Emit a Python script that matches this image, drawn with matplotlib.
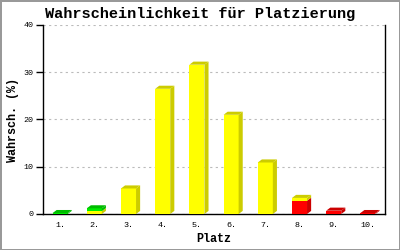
import numpy as np
import matplotlib
matplotlib.use('Agg')
import matplotlib.pyplot as plt
from matplotlib.patches import Polygon, Rectangle

# data: Wahrscheinlichkeit je Platz, gestapelt (rot, gelb, gruen)
places = ['1.', '2.', '3.', '4.', '5.', '6.', '7.', '8.', '9.', '10.']
red = [0, 0, 0, 0, 0, 0, 0, 2.8, 0.7, 0.2]
yellow = [0, 0.6, 5.4, 26.5, 31.6, 21.0, 10.9, 0.6, 0, 0]
green = [0.2, 0.6, 0, 0, 0, 0, 0, 0, 0, 0]

series = [(red, '#ff0000', '#cc0000'),
          (yellow, '#ffff00', '#cccc00'),
          (green, '#00ee00', '#00bb00')]

mono = 'Liberation Mono'

fig = plt.figure(figsize=(4, 2.5), dpi=100)
fig.patch.set_edgecolor('#999999')
fig.patch.set_linewidth(2)
ax = fig.add_axes([0.1075, 0.144, 0.855, 0.756])

w = 0.44
dx = 0.12
dy = 0.65
x = np.arange(len(places))

# 3D-Balken: Vorderseite, Seite, Deckel
for i in x:
    base = 0
    segs = [(s[0][i], s[1], s[2]) for s in series if s[0][i] > 0]
    for k, (v, front, dark) in enumerate(segs):
        x0 = i - w / 2
        x1 = i + w / 2
        ax.add_patch(Rectangle((x0, base), w, v, facecolor=front, edgecolor='none', zorder=3))
        ax.add_patch(Polygon([(x1, base), (x1 + dx, base + dy), (x1 + dx, base + v + dy), (x1, base + v)],
                             closed=True, facecolor=dark, edgecolor='none', zorder=3))
        if k == len(segs) - 1:
            ax.add_patch(Polygon([(x0, base + v), (x0 + dx, base + v + dy), (x1 + dx, base + v + dy), (x1, base + v)],
                                 closed=True, facecolor=dark, edgecolor='none', zorder=3))
        base += v

ax.set_xlim(-0.5, len(places) - 0.5)
ax.set_ylim(0, 40)
ax.set_yticks([0, 10, 20, 30, 40])
ax.set_xticks(x)
ax.set_xticklabels(places)
for lab in ax.get_xticklabels() + ax.get_yticklabels():
    lab.set_fontfamily(mono)
    lab.set_fontsize(6)
ax.tick_params(axis='x', length=0, pad=6)
ax.tick_params(axis='y', length=5, width=1, direction='out', pad=2)
ax.grid(axis='y', color='#bbbbbb', linestyle=(0, (2, 3)), linewidth=0.8, zorder=0)
ax.spines['top'].set_visible(False)
for s in ['left', 'right', 'bottom']:
    ax.spines[s].set_linewidth(1)

fig.text(0.5, 0.945, 'Wahrscheinlichkeit für Platzierung', ha='center', va='center',
         fontfamily=mono, fontweight='bold', fontsize=11)
ax.set_xlabel('Platz', fontfamily=mono, fontweight='bold', fontsize=8.5, labelpad=3)
ax.set_ylabel('Wahrsch. (%)', fontfamily=mono, fontweight='bold', fontsize=8.5, labelpad=3)

fig.savefig('out.png', dpi=100)
